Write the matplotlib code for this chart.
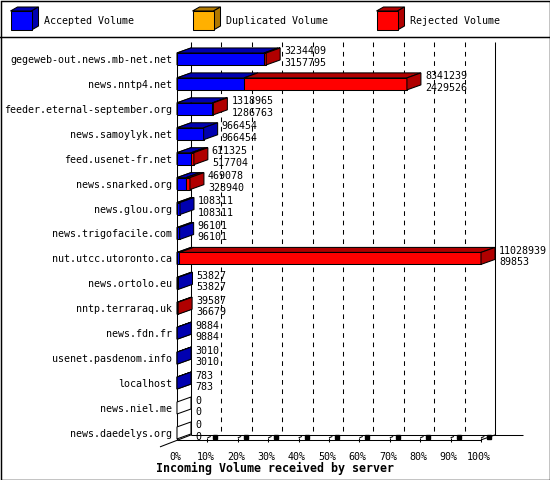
import numpy as np
import matplotlib.pyplot as plt
from matplotlib.patches import Rectangle, Polygon

# data
hosts = ['gegeweb-out.news.mb-net.net', 'news.nntp4.net', 'feeder.eternal-september.org',
         'news.samoylyk.net', 'feed.usenet-fr.net', 'news.snarked.org', 'news.glou.org',
         'news.trigofacile.com', 'nut.utcc.utoronto.ca', 'news.ortolo.eu', 'nntp.terraraq.uk',
         'news.fdn.fr', 'usenet.pasdenom.info', 'localhost', 'news.niel.me', 'news.daedelys.org']
total_vol = [3234409, 8341239, 1318965, 966454, 611325, 469078, 108311, 96101,
             11028939, 53827, 39587, 9884, 3010, 783, 0, 0]
accepted_vol = [3157795, 2429526, 1286763, 966454, 517704, 328940, 108311, 96101,
                89853, 53827, 36679, 9884, 3010, 783, 0, 0]
legend_labels = ['Accepted Volume', 'Duplicated Volume', 'Rejected Volume']
tick_pct = np.arange(0, 101, 10)
title = 'Incoming Volume received by server'

total_vol = np.array(total_vol, dtype=float)
accepted_vol = np.array(accepted_vol, dtype=float)
rejected_vol = total_vol - accepted_vol
scale = 100.0 / total_vol.max()

front = {'blue': '#0000ff', 'orange': '#ffb000', 'red': '#ff0000'}
dark = {'blue': '#0000b0', 'orange': '#b07800', 'red': '#b00000'}

MONO = 'DejaVu Sans Mono'
FS = 7.2
LW = 0.75

fig = plt.figure(figsize=(5.5, 4.8), dpi=100)

# frame / legend layer in pixel units
lax = fig.add_axes([0, 0, 1, 1])
lax.set_xlim(0, 550)
lax.set_ylim(480, 0)
lax.axis('off')
lax.add_patch(Rectangle((0.5, 0.5), 549, 479, fill=False, ec='black', lw=LW * 1.4))
lax.plot([0, 550], [37, 37], color='black', lw=LW * 1.4)

for k, (lab, col) in enumerate(zip(legend_labels, ['blue', 'orange', 'red'])):
    x0 = [10.5, 192.5, 376.5][k]
    w, h, dx, dy = 21, 19, 7, 4
    y0 = 11
    lax.add_patch(Polygon([(x0, y0), (x0 + dx, y0 - dy), (x0 + w + dx, y0 - dy), (x0 + w, y0)],
                          fc=dark[col], ec='black', lw=LW))
    lax.add_patch(Polygon([(x0 + w, y0), (x0 + w + dx, y0 - dy), (x0 + w + dx, y0 + h - dy), (x0 + w, y0 + h)],
                          fc=dark[col], ec='black', lw=LW))
    lax.add_patch(Rectangle((x0, y0), w, h, fc=front[col], ec='black', lw=LW))
    lax.text(x0 + 34, 21, lab, fontsize=FS, family=MONO, va='center', ha='left')

# main chart: x in percent of the largest volume, y in rows
ax = fig.add_axes([177 / 550, 1 - 445.4 / 480, 304 / 550, 398.9 / 480])
ax.set_xlim(0, 100)
ax.set_ylim(15.5, -0.5)
ax.axis('off')

DX = 14 / 3.04      # depth in percent
DY = 5 / 24.93      # depth in rows
HH = 6 / 24.93      # half bar height
floor = 15.28
bfloor = floor - DY
top = -0.68

# back wall, grid and floor
kw = dict(color='black', lw=LW, clip_on=False, solid_capstyle='butt')
ax.plot([DX, DX], [top, bfloor], zorder=1, **kw)
ax.plot([100 + DX, 100 + DX], [top, bfloor], zorder=1, **kw)
for p in tick_pct[1:-1]:
    ax.plot([p + DX, p + DX], [top, bfloor], color='black', lw=LW, ls=(0, (4.5, 4.5)),
            clip_on=False, zorder=1)
ax.plot([DX, 113.8], [bfloor, bfloor], zorder=1, **kw)
ax.plot([0, 100], [floor, floor], zorder=1, **kw)
ax.plot([100, 100 + DX], [floor, bfloor], zorder=1, **kw)
ax.plot([-5.6, DX], [floor + 0.28, bfloor], zorder=1, **kw)
ax.plot([0, 0], [-HH, floor], zorder=2, **kw)

for p in tick_pct:
    if p > 0:
        ax.plot([p, p], [floor - 0.08, floor + 0.1], zorder=2, **kw)
        ax.plot([p, p + 1.1], [floor - 0.08, floor - 0.14], zorder=2, **kw)
        ax.plot([p + 2.6], [floor - 0.13], marker='s', ms=2.2, color='black',
                clip_on=False, zorder=2)
    ax.text(p - 0.6, 16.08, '%d%%' % p, fontsize=FS, family=MONO, ha='center',
            va='baseline', clip_on=False)

fig.text(0.5, 1 - 472 / 480, title, fontsize=8.4, family=MONO, weight='bold',
         ha='center', va='baseline')

# bars
for i, host in enumerate(hosts):
    y0, y1 = i - HH, i + HH
    ax.add_patch(Polygon([(0, y0), (DX, y0 - DY), (DX, y1 - DY), (0, y1)],
                         fc='white', ec='black', lw=LW, clip_on=False, zorder=3))
    segs = [(accepted_vol[i] * scale, 'blue'), (rejected_vol[i] * scale, 'red')]
    xa = 0.0
    last = None
    for w, col in segs:
        if w <= 0:
            continue
        xb = xa + w
        ax.add_patch(Polygon([(xa, y0), (xb, y0), (xb + DX, y0 - DY), (xa + DX, y0 - DY)],
                             fc=dark[col], ec='black', lw=LW, clip_on=False, zorder=4))
        ax.add_patch(Rectangle((xa, y0), w, 2 * HH, fc=front[col], ec='black', lw=LW,
                               clip_on=False, zorder=4))
        xa = xb
        last = col
    if last is not None:
        ax.add_patch(Polygon([(xa, y0), (xa + DX, y0 - DY), (xa + DX, y1 - DY), (xa, y1)],
                             fc=dark[last], ec='black', lw=LW, clip_on=False, zorder=4))
    xe = xa + DX + 4 / 3.04
    ax.text(xe, i - 0.18, '%d' % total_vol[i], fontsize=FS, family=MONO, ha='left',
            va='baseline', clip_on=False, zorder=5)
    ax.text(xe, i + 0.28, '%d' % accepted_vol[i], fontsize=FS, family=MONO, ha='left',
            va='baseline', clip_on=False, zorder=5)
    ax.text(-5 / 3.04, i + 0.16, host, fontsize=FS, family=MONO, ha='right',
            va='baseline', clip_on=False)

fig.savefig('out.png', dpi=100)
